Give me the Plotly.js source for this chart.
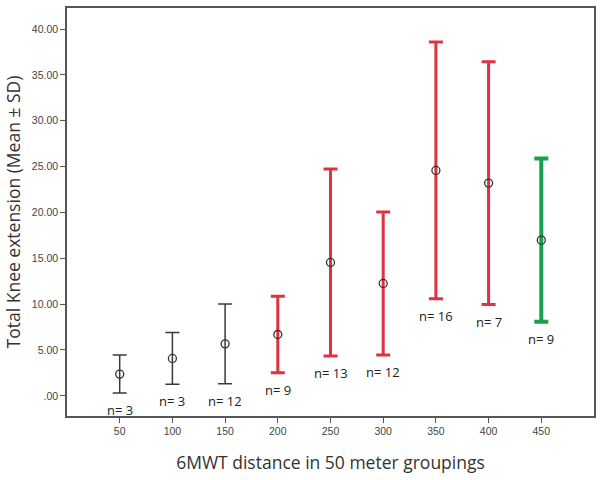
<!DOCTYPE html>
<html>
<head>
<meta charset="utf-8">
<script src="https://cdn.plot.ly/plotly-3.0.1.min.js"></script>
<style>
  html, body { margin: 0; padding: 0; background: white; }
  #chart { width: 602px; height: 480px; }
</style>
</head>
<body>
<div id="chart"></div>
<script>
// 6MWT groups (meters)
var distances = [50, 100, 150, 200, 250, 300, 350, 400, 450];
// mean knee extension per group
var means = [2.37, 4.08, 5.67, 6.69, 14.55, 12.26, 24.58, 23.2, 16.98];
// standard deviation per group
var sds = [2.07, 2.83, 4.35, 4.18, 10.2, 7.8, 14.0, 13.25, 8.9];
// group sizes
var counts = [3, 3, 12, 9, 13, 12, 16, 7, 9];
// colour group of each bar
var groups = ['black', 'black', 'black', 'red', 'red', 'red', 'red', 'red', 'green'];

var yTickVals = [0, 5, 10, 15, 20, 25, 30, 35, 40];
var yTickText = ['.00', '5.00', '10.00', '15.00', '20.00', '25.00', '30.00', '35.00', '40.00'];
var xTickVals = [50, 100, 150, 200, 250, 300, 350, 400, 450];

var styles = {
  black: { color: '#3a3a3a', width: 1.5 },
  red:   { color: '#e0323e', width: 3 },
  green: { color: '#19a04b', width: 4 }
};

var data = [];
['black', 'red', 'green'].forEach(function (g) {
  var xs = [], ys = [], es = [];
  for (var i = 0; i < distances.length; i++) {
    if (groups[i] === g) {
      xs.push(distances[i]);
      ys.push(means[i]);
      es.push(sds[i]);
    }
  }
  data.push({
    x: xs,
    y: ys,
    type: 'scatter',
    mode: 'markers',
    marker: {
      symbol: 'circle-open',
      size: 8,
      color: '#333333',
      line: { width: 1.3, color: '#333333' }
    },
    error_y: {
      type: 'data',
      array: es,
      visible: true,
      color: styles[g].color,
      thickness: styles[g].width,
      width: 7
    },
    showlegend: false,
    hoverinfo: 'x+y'
  });
});

// n= labels under each lower whisker
var annotations = [];
for (var i = 0; i < distances.length; i++) {
  annotations.push({
    x: distances[i],
    y: means[i] - sds[i],
    text: 'n= ' + counts[i],
    showarrow: false,
    yshift: -17,
    font: { family: 'Open Sans, sans-serif', size: 13, color: '#222222' }
  });
}

var layout = {
  width: 602,
  height: 480,
  margin: { l: 67, r: 8, t: 8, b: 64 },
  plot_bgcolor: 'white',
  paper_bgcolor: 'white',
  xaxis: {
    range: [0, 500],
    tickvals: xTickVals,
    ticks: 'outside',
    ticklen: 5,
    tickcolor: '#555555',
    showgrid: false,
    zeroline: false,
    showline: true,
    mirror: true,
    linecolor: '#555555',
    linewidth: 1.5,
    tickfont: { family: 'Liberation Sans, Arial, sans-serif', size: 10.5, color: '#444444' },
    title: {
      text: '6MWT distance in 50 meter groupings',
      font: { family: 'Open Sans, sans-serif', size: 17.5, color: '#333333' },
      standoff: 20
    }
  },
  yaxis: {
    range: [-2.2, 42.3],
    tickvals: yTickVals,
    ticktext: yTickText,
    ticks: 'outside',
    ticklen: 5,
    tickcolor: '#555555',
    showgrid: false,
    zeroline: false,
    showline: true,
    mirror: true,
    linecolor: '#555555',
    linewidth: 1.5,
    tickfont: { family: 'Liberation Sans, Arial, sans-serif', size: 10.5, color: '#444444' },
    title: {
      text: 'Total Knee extension (Mean ± SD)',
      font: { family: 'Open Sans, sans-serif', size: 17.5, color: '#333333' },
      standoff: 7
    }
  },
  annotations: annotations
};

Plotly.newPlot('chart', data, layout, { displayModeBar: false });
</script>
</body>
</html>
